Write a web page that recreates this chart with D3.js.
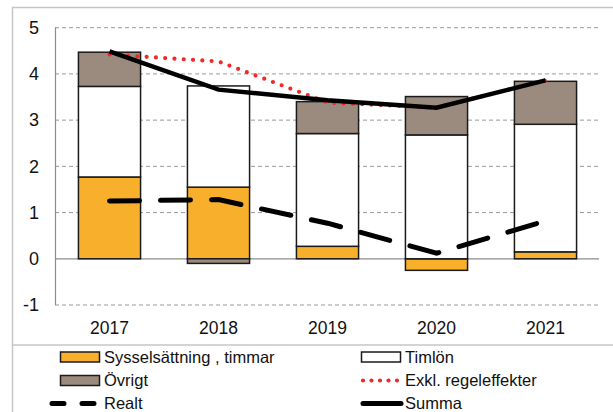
<!DOCTYPE html>
<html>
<head>
<meta charset="utf-8">
<script src="https://cdn.jsdelivr.net/npm/d3@7"></script>
<style>
  body { margin: 0; background: #fff; }
  svg { display: block; font-family: "Liberation Sans", Arial, sans-serif; }
</style>
</head>
<body>
<svg id="chart" width="613" height="412"></svg>
<script>
// data
years = ['2017', '2018', '2019', '2020', '2021'];
syss = [1.77, 1.55, 0.27, -0.25, 0.15];
timlon = [1.96, 2.19, 2.44, 2.68, 2.76];
ovrigt = [0.74, -0.10, 0.69, 0.83, 0.93];
exkl = [4.42, 4.27, 3.38, 3.27, 3.86];
realt = [1.25, 1.28, 0.77, 0.12, 0.82];
summa = [4.49, 3.66, 3.43, 3.27, 3.86];
yTicks = [-1, 0, 1, 2, 3, 4, 5];

keys = ['syss', 'timlon', 'ovrigt'];
colors = {syss: '#f8b02c', timlon: '#ffffff', ovrigt: '#9b8b7f'};

rows = years.map(function(y, i){
    return {year: y, syss: syss[i], timlon: timlon[i], ovrigt: ovrigt[i]};
});

svg = d3.select('#chart');

x = d3.scaleBand().domain(years).range([55, 600]).paddingInner(0.43).paddingOuter(0.215);
y = d3.scaleLinear().domain([-1, 5]).range([305, 27.7]);

// outer frame
svg.append('line').attr('x1', 12).attr('x2', 613).attr('y1', 7.5).attr('y2', 7.5)
    .attr('stroke', '#c6c6c6').attr('stroke-width', 1.5);
svg.append('line').attr('x1', 12.5).attr('x2', 12.5).attr('y1', 7).attr('y2', 412)
    .attr('stroke', '#c6c6c6').attr('stroke-width', 1.5);
svg.append('line').attr('x1', 12).attr('x2', 613).attr('y1', 345).attr('y2', 345)
    .attr('stroke', '#c6c6c6').attr('stroke-width', 1.5);

// grid
grid = svg.append('g');
yTicks.forEach(function(t){
    grid.append('line')
        .attr('x1', 55).attr('x2', 599)
        .attr('y1', y(t)).attr('y2', y(t))
        .attr('stroke', t === 0 ? '#8c8c8c' : '#9a9a9a')
        .attr('stroke-width', t === 0 ? 1.2 : 1)
        .attr('stroke-dasharray', t === 0 ? null : '4,3');
});
svg.append('line').attr('x1', 55.5).attr('x2', 55.5).attr('y1', y(5)).attr('y2', y(-1))
    .attr('stroke', '#8c8c8c').attr('stroke-width', 1.2);

// y axis labels (plain hyphen for the minus, as in the original)
yAxis = svg.append('g').attr('transform', 'translate(39,0)')
    .call(d3.axisLeft(y).tickValues(yTicks).tickFormat(function(d){ return String(d); })
        .tickSize(0).tickPadding(0));
yAxis.select('.domain').remove();
yAxis.selectAll('text').attr('font-size', 18).attr('fill', '#111')
    .attr('font-family', '"Liberation Sans", Arial, sans-serif');

// x axis labels
xAxis = svg.append('g').attr('transform', 'translate(0,318)')
    .call(d3.axisBottom(x).tickSize(0).tickPadding(4));
xAxis.select('.domain').remove();
xAxis.selectAll('text').attr('font-size', 17.5).attr('fill', '#111')
    .attr('font-family', '"Liberation Sans", Arial, sans-serif');

// stacked bars
stack = d3.stack().keys(keys).offset(d3.stackOffsetDiverging);
series = stack(rows);

svg.append('g').selectAll('g')
    .data(series)
    .join('g')
    .attr('fill', function(d){ return colors[d.key]; })
    .selectAll('rect')
    .data(function(d){ return d; })
    .join('rect')
    .attr('x', function(d){ return x(d.data.year); })
    .attr('width', x.bandwidth())
    .attr('y', function(d){ return y(Math.max(d[0], d[1])); })
    .attr('height', function(d){ return Math.abs(y(d[0]) - y(d[1])); })
    .attr('stroke', '#1a1a1a')
    .attr('stroke-width', 1.5);

// lines
line = d3.line()
    .x(function(d, i){ return x(years[i]) + x.bandwidth() / 2; })
    .y(function(d){ return y(d); });

svg.append('path').datum(exkl).attr('d', line)
    .attr('fill', 'none').attr('stroke', '#f02828').attr('stroke-width', 4.2)
    .attr('stroke-linecap', 'round').attr('stroke-dasharray', '0,9.3');

svg.append('path').datum(summa).attr('d', line)
    .attr('fill', 'none').attr('stroke', '#000').attr('stroke-width', 4.5);

svg.append('path').datum(realt).attr('d', line)
    .attr('fill', 'none').attr('stroke', '#000').attr('stroke-width', 5)
    .attr('stroke-linecap', 'round').attr('stroke-dasharray', '30,21');

// legend
legendItems = [
    {label: 'Sysselsättning , timmar', type: 'bar', key: 'syss', col: 0, row: 0},
    {label: 'Timlön', type: 'bar', key: 'timlon', col: 1, row: 0},
    {label: 'Övrigt', type: 'bar', key: 'ovrigt', col: 0, row: 1},
    {label: 'Exkl. regeleffekter', type: 'dots', col: 1, row: 1},
    {label: 'Realt', type: 'dash', col: 0, row: 2},
    {label: 'Summa', type: 'solid', col: 1, row: 2}
];
colX = [60, 361];
rowY = [357, 380.5, 403.5];

legend = svg.append('g');
legendItems.forEach(function(it){
    g = legend.append('g')
        .attr('transform', 'translate(' + colX[it.col] + ',' + rowY[it.row] + ')');
    if(it.type === 'bar'){
        g.append('rect').attr('x', 0.5).attr('y', -5).attr('width', 39).attr('height', 10)
            .attr('fill', colors[it.key]).attr('stroke', '#1a1a1a').attr('stroke-width', 1.5);
    } else if(it.type === 'dots'){
        g.append('line').attr('x1', 2).attr('x2', 40).attr('y1', 0).attr('y2', 0)
            .attr('stroke', '#f02828').attr('stroke-width', 4.2)
            .attr('stroke-linecap', 'round').attr('stroke-dasharray', '0,8.5');
    } else if(it.type === 'dash'){
        g.append('line').attr('x1', -8).attr('x2', 36).attr('y1', 0).attr('y2', 0)
            .attr('stroke', '#000').attr('stroke-width', 5)
            .attr('stroke-linecap', 'round').attr('stroke-dasharray', '12,18');
    } else {
        g.append('line').attr('x1', 2).attr('x2', 40).attr('y1', 0).attr('y2', 0)
            .attr('stroke', '#000').attr('stroke-width', 5).attr('stroke-linecap', 'round');
    }
    g.append('text').attr('x', 44).attr('y', 0).attr('dy', '0.36em')
        .attr('font-size', 16.5).attr('fill', '#111').text(it.label);
});
</script>
</body>
</html>
